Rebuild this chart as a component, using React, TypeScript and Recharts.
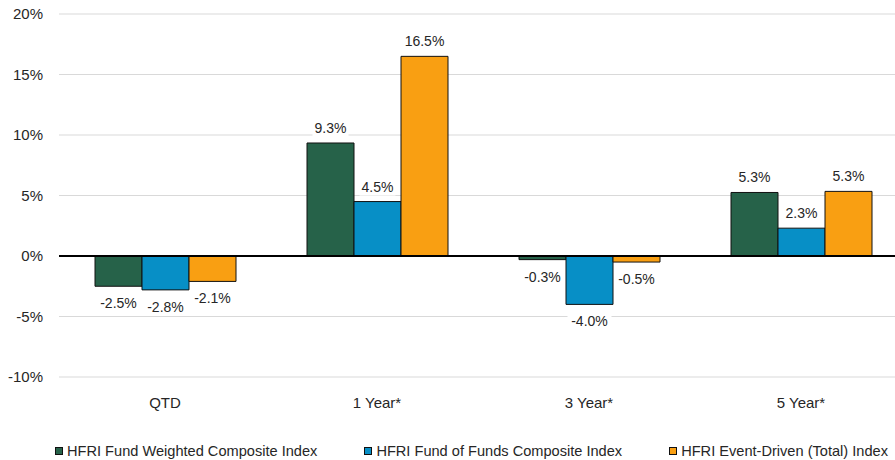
import {
  Bar,
  BarChart,
  CartesianGrid,
  LabelList,
  Legend,
  ReferenceLine,
  XAxis,
  YAxis,
} from "recharts";

const categories = ["QTD", "1 Year*", "3 Year*", "5 Year*"];
const fundWeighted = [-2.5, 9.34, -0.3, 5.25];
const fundOfFunds = [-2.8, 4.5, -4.0, 2.3];
const eventDriven = [-2.1, 16.5, -0.5, 5.34];
const yTicks = [-10, -5, 0, 5, 10, 15, 20];

const seriesNames = [
  "HFRI Fund Weighted Composite Index",
  "HFRI Fund of Funds Composite Index",
  "HFRI Event-Driven (Total) Index",
];
const colors = ["#266249", "#078FC6", "#F99F12"];

const data = categories.map((name, i) => ({
  name,
  fw: fundWeighted[i],
  fof: fundOfFunds[i],
  ed: eventDriven[i],
}));

const FONT = "'Liberation Sans', Arial, sans-serif";
const TEXT = "#262626";

// value label with a white box behind it, above positive bars and below negative ones
function ValueLabel(props: any) {
  const { x, y, width, height, value } = props;
  const v = Number(value);
  const top = Math.min(y, y + height);
  const bottom = Math.max(y, y + height);
  const cx = x + width / 2;
  const cy = v >= 0 ? top - 15 : bottom + 17;
  const text = `${v.toFixed(1)}%`;
  const w = text.length * 8 + 4;
  return (
    <g>
      <rect x={cx - w / 2} y={cy - 9} width={w} height={18} fill="#fff" />
      <text
        x={cx}
        y={cy}
        textAnchor="middle"
        dominantBaseline="central"
        fontSize={14}
        fontFamily={FONT}
        fill={TEXT}
      >
        {text}
      </text>
    </g>
  );
}

function LegendContent() {
  return (
    <div
      style={{
        height: 53,
        paddingTop: 34,
        paddingLeft: 55,
        boxSizing: "border-box",
        display: "flex",
        gap: 47,
        fontFamily: FONT,
        fontSize: 14.6,
        color: TEXT,
        lineHeight: "18px",
        whiteSpace: "nowrap",
      }}
    >
      {seriesNames.map((name, i) => (
        <div key={name} style={{ display: "flex", alignItems: "center" }}>
          <span
            style={{
              display: "inline-block",
              width: 6,
              height: 6,
              background: colors[i],
              border: "1px solid #111",
              marginRight: 4,
            }}
          />
          {name}
        </div>
      ))}
    </div>
  );
}

export default function App() {
  return (
    <div
      style={{
        position: "absolute",
        left: 0,
        top: 0,
        width: 895,
        height: 460,
        overflow: "hidden",
        background: "#fff",
      }}
    >
      <BarChart
        width={907}
        height={460}
        data={data}
        margin={{ top: 14, right: 0, bottom: 0, left: 0 }}
        barGap={0}
        barSize={47}
      >
        <CartesianGrid vertical={false} stroke="#D9D9D9" strokeWidth={1} />
        <XAxis
          dataKey="name"
          axisLine={false}
          tickLine={false}
          tickSize={0}
          tickMargin={20}
          height={30}
          tick={{ fontSize: 15, fontFamily: FONT, fill: TEXT }}
        />
        <YAxis
          domain={[-10, 20]}
          ticks={yTicks}
          width={59}
          axisLine={false}
          tickLine={false}
          tickSize={0}
          tickMargin={16}
          tickFormatter={(v) => `${v}%`}
          tick={{ fontSize: 15, fontFamily: FONT, fill: TEXT }}
        />
        <ReferenceLine y={0} stroke="#000" strokeWidth={2} />
        <Legend verticalAlign="bottom" align="left" content={<LegendContent />} />
        <Bar dataKey="fw" name={seriesNames[0]} fill={colors[0]} stroke="#111" strokeWidth={1} isAnimationActive={false}>
          <LabelList dataKey="fw" content={<ValueLabel />} />
        </Bar>
        <Bar dataKey="fof" name={seriesNames[1]} fill={colors[1]} stroke="#111" strokeWidth={1} isAnimationActive={false}>
          <LabelList dataKey="fof" content={<ValueLabel />} />
        </Bar>
        <Bar dataKey="ed" name={seriesNames[2]} fill={colors[2]} stroke="#111" strokeWidth={1} isAnimationActive={false}>
          <LabelList dataKey="ed" content={<ValueLabel />} />
        </Bar>
      </BarChart>
    </div>
  );
}
